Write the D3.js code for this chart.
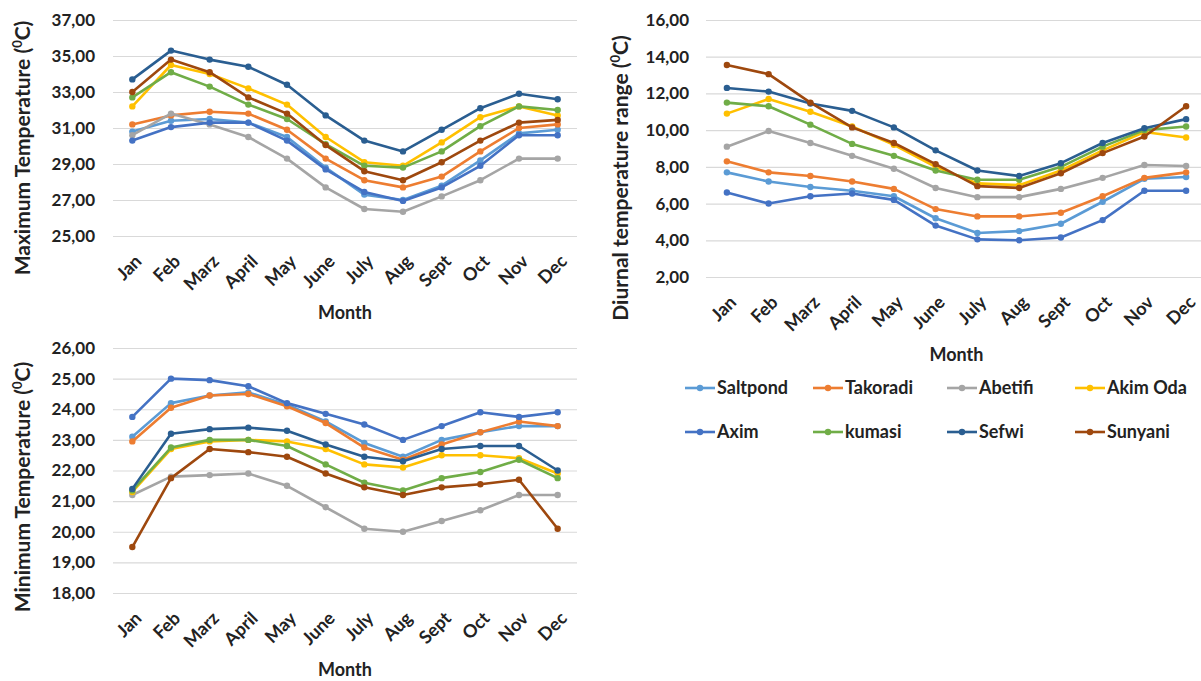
<!DOCTYPE html>
<html>
<head>
<meta charset="utf-8">
<script src="https://cdn.jsdelivr.net/npm/d3@7"></script>
<style>
  html, body { margin: 0; padding: 0; background: #ffffff; }
  svg { display: block; }
  text { font-family: Lato, "Open Sans", sans-serif; font-weight: bold; fill: #222; }
</style>
</head>
<body>
<svg id="chart" width="1201" height="681"></svg>
<script>
// ---------------- DATA ----------------
const months = ["Jan", "Feb", "Marz", "April", "May", "June", "July", "Aug", "Sept", "Oct", "Nov", "Dec"];
const stations = ["Saltpond", "Takoradi", "Abetifi", "Akim Oda", "Axim", "kumasi", "Sefwi", "Sunyani"];
const stationColors = ["#5B9BD5", "#ED7D31", "#A5A5A5", "#FFC000", "#4472C4", "#70AD47", "#2A5E91", "#9E480E"];

// Maximum temperature (ºC), one row per station (same order as stations)
const maxTemp = [
  [30.8, 31.4, 31.5, 31.3, 30.5, 28.8, 27.3, 27.0, 27.8, 29.2, 30.7, 30.9], // Saltpond
  [31.2, 31.7, 31.9, 31.8, 30.9, 29.3, 28.1, 27.7, 28.3, 29.7, 31.0, 31.2], // Takoradi
  [30.6, 31.8, 31.2, 30.5, 29.3, 27.7, 26.5, 26.35, 27.2, 28.1, 29.3, 29.3], // Abetifi
  [32.2, 34.5, 34.0, 33.2, 32.3, 30.5, 29.1, 28.9, 30.2, 31.6, 32.2, 31.7], // Akim Oda
  [30.3, 31.05, 31.3, 31.3, 30.3, 28.7, 27.45, 26.95, 27.7, 28.9, 30.6, 30.6], // Axim
  [32.7, 34.1, 33.3, 32.3, 31.5, 30.1, 28.9, 28.8, 29.7, 31.1, 32.2, 32.0], // kumasi
  [33.7, 35.3, 34.8, 34.4, 33.4, 31.7, 30.3, 29.7, 30.9, 32.1, 32.9, 32.6], // Sefwi
  [33.0, 34.8, 34.1, 32.7, 31.8, 30.05, 28.6, 28.1, 29.1, 30.3, 31.3, 31.45] // Sunyani
];

// Diurnal temperature range (ºC)
const diurnalRange = [
  [7.7, 7.2, 6.9, 6.7, 6.4, 5.2, 4.4, 4.5, 4.9, 6.1, 7.35, 7.45], // Saltpond
  [8.3, 7.7, 7.5, 7.2, 6.8, 5.7, 5.3, 5.3, 5.5, 6.4, 7.4, 7.7],   // Takoradi
  [9.1, 9.95, 9.3, 8.6, 7.9, 6.85, 6.35, 6.35, 6.8, 7.4, 8.1, 8.05], // Abetifi
  [10.9, 11.7, 11.0, 10.2, 9.2, 8.0, 7.1, 7.0, 7.8, 8.9, 9.9, 9.6], // Akim Oda
  [6.6, 6.0, 6.4, 6.55, 6.2, 4.8, 4.05, 4.0, 4.15, 5.1, 6.7, 6.7], // Axim
  [11.5, 11.3, 10.3, 9.25, 8.6, 7.8, 7.3, 7.3, 8.0, 9.1, 10.0, 10.2], // kumasi
  [12.3, 12.1, 11.45, 11.05, 10.15, 8.9, 7.8, 7.5, 8.2, 9.3, 10.1, 10.6], // Sefwi
  [13.55, 13.05, 11.5, 10.15, 9.3, 8.15, 6.95, 6.85, 7.65, 8.75, 9.65, 11.3] // Sunyani
];

// Minimum temperature (ºC)
const minTemp = [
  [23.1, 24.2, 24.45, 24.55, 24.15, 23.6, 22.9, 22.45, 23.0, 23.25, 23.45, 23.45], // Saltpond
  [22.95, 24.05, 24.45, 24.5, 24.1, 23.55, 22.75, 22.35, 22.85, 23.25, 23.6, 23.45], // Takoradi
  [21.2, 21.8, 21.85, 21.9, 21.5, 20.8, 20.1, 20.0, 20.35, 20.7, 21.2, 21.2], // Abetifi
  [21.3, 22.7, 22.95, 23.0, 22.95, 22.7, 22.2, 22.1, 22.5, 22.5, 22.4, 21.9], // Akim Oda
  [23.75, 25.0, 24.95, 24.75, 24.2, 23.85, 23.5, 23.0, 23.45, 23.9, 23.75, 23.9], // Axim
  [21.35, 22.75, 23.0, 23.0, 22.8, 22.2, 21.6, 21.35, 21.75, 21.95, 22.35, 21.75], // kumasi
  [21.4, 23.2, 23.35, 23.4, 23.3, 22.85, 22.45, 22.3, 22.7, 22.8, 22.8, 22.0], // Sefwi
  [19.5, 21.75, 22.7, 22.6, 22.45, 21.9, 21.45, 21.2, 21.45, 21.55, 21.7, 20.1] // Sunyani
];

// Tick values
const maxTicks = [25, 27, 29, 31, 33, 35, 37];
const diurnalTicks = [2, 4, 6, 8, 10, 12, 14, 16];
const minTicks = [18, 19, 20, 21, 22, 23, 24, 25, 26];

// ---------------- DRAWING ----------------
const svg = d3.select("#chart");
const fmt = v => d3.format(".2f")(v).replace(".", ",");

function drawPanel(cfg) {
  const x = d3.scaleBand().domain(months).range([cfg.x0, cfg.x1]);
  const y = d3.scaleLinear().domain(cfg.domain).range([cfg.yBottom, cfg.yTop]);
  const g = svg.append("g");

  // gridlines
  const grid = d3.axisLeft(y).tickValues(cfg.ticks).tickSize(-(cfg.x1 - cfg.x0)).tickFormat("");
  g.append("g").attr("transform", `translate(${cfg.x0},0)`).call(grid)
    .call(s => s.select(".domain").remove())
    .call(s => s.selectAll("line").attr("stroke", "#d9d9d9").attr("stroke-width", 1.2));

  // y tick labels
  const yAxis = d3.axisLeft(y).tickValues(cfg.ticks).tickSize(0).tickPadding(0).tickFormat(fmt);
  g.append("g").attr("transform", `translate(${cfg.labelRight},0)`).call(yAxis)
    .call(s => s.select(".domain").remove())
    .call(s => s.selectAll("text").attr("font-size", 17).attr("font-family", "Lato, sans-serif").attr("font-weight", "bold").attr("fill", "#222"));

  // x tick labels
  const xAxis = d3.axisBottom(x).tickSize(0).tickPadding(0);
  const xg = g.append("g").attr("transform", `translate(0,${cfg.xLabelY})`).call(xAxis);
  xg.select(".domain").remove();
  xg.selectAll("text")
    .attr("font-size", 18).attr("font-family", "Lato, sans-serif").attr("font-weight", "bold").attr("fill", "#222")
    .attr("text-anchor", "end")
    .attr("dy", "0.35em")
    .attr("transform", "translate(6,0) rotate(-45)");

  // series
  const line = d3.line().x((d, i) => x(months[i]) + x.bandwidth() / 2).y(d => y(d));
  cfg.values.forEach((vals, si) => {
    const sg = g.append("g");
    sg.append("path").datum(vals).attr("d", line).attr("fill", "none")
      .attr("stroke", stationColors[si]).attr("stroke-width", 2.6).attr("stroke-linejoin", "round");
    sg.selectAll("circle").data(vals).join("circle")
      .attr("cx", (d, i) => x(months[i]) + x.bandwidth() / 2).attr("cy", d => y(d))
      .attr("r", 3.2).attr("fill", stationColors[si]);
  });

  // axis titles
  const yt = svg.append("text").attr("transform", `translate(${cfg.yTitleX},${cfg.yTitleY}) rotate(-90)`)
    .attr("text-anchor", "middle").attr("font-size", 21).attr("dy", "0.35em");
  yt.append("tspan").text(cfg.yTitle + " (");
  yt.append("tspan").text("0").attr("font-size", 13).attr("baseline-shift", "super");
  yt.append("tspan").text("C)");
  svg.append("text").attr("x", (cfg.x0 + cfg.x1) / 2).attr("y", cfg.monthY).attr("dy", "0.35em")
    .attr("text-anchor", "middle").attr("font-size", 18).text("Month");
}

drawPanel({
  values: maxTemp, ticks: maxTicks, domain: [25, 37],
  x0: 113, x1: 577, yTop: 20, yBottom: 236, labelRight: 95, xLabelY: 258,
  yTitle: "Maximum Temperature", yTitleX: 23, yTitleY: 148, monthY: 313
});

drawPanel({
  values: diurnalRange, ticks: diurnalTicks, domain: [2, 16],
  x0: 706, x1: 1207, yTop: 20, yBottom: 277, labelRight: 689, xLabelY: 299,
  yTitle: "Diurnal temperature range", yTitleX: 621, yTitleY: 178, monthY: 355
});

drawPanel({
  values: minTemp, ticks: minTicks, domain: [18, 26],
  x0: 113, x1: 577, yTop: 348, yBottom: 593, labelRight: 95, xLabelY: 615,
  yTitle: "Minimum Temperature", yTitleX: 23, yTitleY: 487, monthY: 670
});

// ---------------- LEGEND ----------------
const legendX = [685, 813, 947, 1075];
const legendY = [388, 432];
const leg = svg.append("g");
stations.forEach((name, i) => {
  const lx = legendX[i % 4], ly = legendY[Math.floor(i / 4)];
  const item = leg.append("g").attr("transform", `translate(${lx},${ly})`);
  item.append("line").attr("x1", 0).attr("x2", 30).attr("y1", 0).attr("y2", 0)
    .attr("stroke", stationColors[i]).attr("stroke-width", 2.6);
  item.append("circle").attr("cx", 15).attr("cy", 0).attr("r", 3.2).attr("fill", stationColors[i]);
  item.append("text").attr("x", 32).attr("y", 0).attr("dy", "0.35em").attr("font-size", 18).text(name);
});
</script>
</body>
</html>
